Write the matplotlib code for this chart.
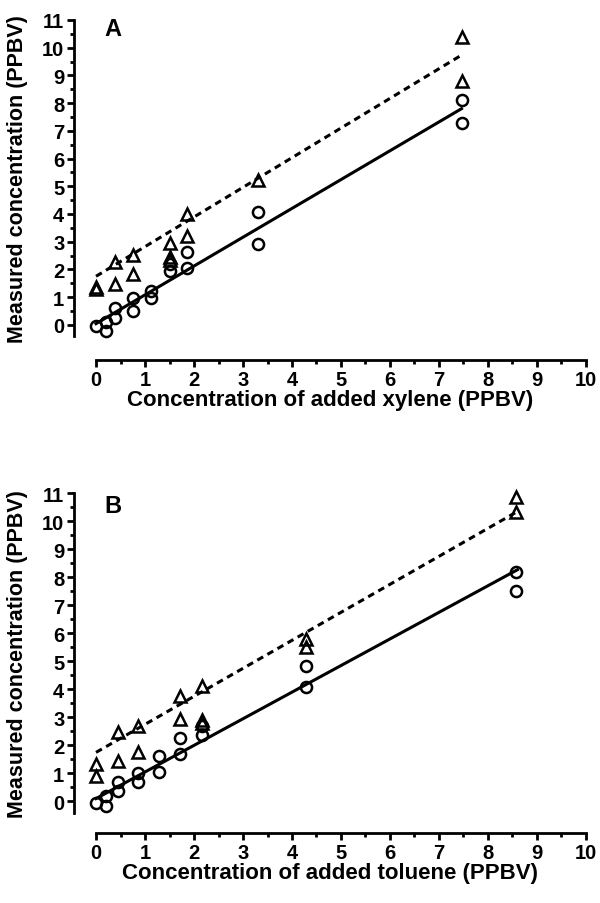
import numpy as np
import matplotlib
matplotlib.use("Agg")
from matplotlib import pyplot as plt

plt.rcParams['font.family'] = ['Liberation Sans', 'DejaVu Sans']
plt.rcParams['font.weight'] = 'bold'

# Panel A - xylene
xa_tri = [0, 0, 0.39, 0.39, 0.76, 0.76, 1.5, 1.5, 1.5, 1.86, 1.86, 3.3, 7.46, 7.46]
ya_tri = [1.28, 1.38, 2.25, 1.47, 2.52, 1.83, 2.95, 2.45, 2.32, 4.0, 3.21, 5.22, 10.37, 8.81]
xa_circ = [0, 0.2, 0.2, 0.39, 0.39, 0.76, 0.76, 1.12, 1.12, 1.5, 1.5, 1.86, 1.86, 3.3, 3.3, 7.46, 7.46]
ya_circ = [-0.05, -0.22, 0.1, 0.59, 0.23, 0.96, 0.51, 1.23, 0.95, 1.95, 2.2, 2.64, 2.04, 4.06, 2.91, 8.12, 7.28]
fit_a_tri = (1.75, 1.07)   # intercept, slope
fit_a_circ = (0.04, 1.04)

# Panel B - toluene
xb_tri = [0, 0, 0.44, 0.44, 0.86, 0.86, 1.71, 1.71, 2.16, 2.16, 2.16, 4.29, 4.29, 8.57, 8.57]
yb_tri = [1.33, 0.92, 2.49, 1.43, 2.68, 1.75, 3.77, 2.94, 4.13, 2.92, 2.8, 5.8, 5.5, 10.88, 10.32]
xb_circ = [0, 0.2, 0.2, 0.44, 0.44, 0.86, 0.86, 1.29, 1.29, 1.71, 1.71, 2.16, 2.16, 4.29, 4.29, 8.57, 8.57]
yb_circ = [-0.05, 0.2, -0.16, 0.68, 0.38, 1.01, 0.68, 1.63, 1.06, 2.25, 1.69, 2.7, 2.37, 4.82, 4.07, 8.2, 7.52]
fit_b_tri = (1.75, 1.0)
fit_b_circ = (0.1, 0.95)

panels = [
    ("A", "Concentration of added xylene (PPBV)", xa_tri, ya_tri, xa_circ, ya_circ,
     fit_a_tri, fit_a_circ, 7.46, -1.27, 10.7, [0.1233, 0.6007, 0.8533, 0.3761]),
    ("B", "Concentration of added toluene (PPBV)", xb_tri, yb_tri, xb_circ, yb_circ,
     fit_b_tri, fit_b_circ, 8.6, -1.14, 10.55, [0.1233, 0.0771, 0.8533, 0.3761]),
]

fig = plt.figure(figsize=(6, 9.04), dpi=100)

for letter, xlabel, xt, yt, xc, yc, ft, fc, xmax, ybot, ylet, rect in panels:
    ax = fig.add_axes(rect)
    xs = np.array([0, xmax])
    ax.plot(xs, ft[0] + ft[1] * xs, color='black', lw=2.2, ls=(0, (2.2, 1.6)))
    ax.plot(xs, fc[0] + fc[1] * xs, color='black', lw=2.2)
    ax.plot(xt, yt, ls='none', marker='^', ms=8, mfc='none', mec='black', mew=1.8, clip_on=False)
    ax.plot(xc, yc, ls='none', marker='o', ms=8, mfc='none', mec='black', mew=1.8, clip_on=False)

    ax.set_xlim(-0.45, 10)
    ax.set_ylim(ybot, 11)
    ax.spines['top'].set_visible(False)
    ax.spines['right'].set_visible(False)
    ax.spines['bottom'].set_bounds(0, 10)
    ax.spines['left'].set_bounds(-0.4, 11)
    for s in ('bottom', 'left'):
        ax.spines[s].set_linewidth(2)

    ax.set_xticks(np.arange(0, 11, 1))
    ax.set_yticks(np.arange(0, 12, 1))
    ax.set_yticks(np.arange(0.5, 11, 1), minor=True)
    ax.set_xticks(np.arange(0.5, 10, 1), minor=True)
    ax.tick_params(which='major', length=5, width=2, labelsize=14.5, pad=2)
    ax.tick_params(which='minor', length=3, width=2)
    for lab in ax.get_xticklabels() + ax.get_yticklabels():
        lab.set_fontweight('bold')

    ax.set_xlabel(xlabel, fontsize=16, fontweight='bold', labelpad=0)
    ax.set_ylabel("Measured concentration (PPBV)", fontsize=15.5, fontweight='bold', labelpad=10)
    # centre the y label on the drawn spine rather than the whole axes
    ax.yaxis.label.set_y(((-0.4 + 11) / 2 - ybot) / (11 - ybot))
    ax.text(0.18, ylet, letter, fontsize=17, fontweight='bold', va='center', ha='left')

fig.savefig("out.png", dpi=100)
